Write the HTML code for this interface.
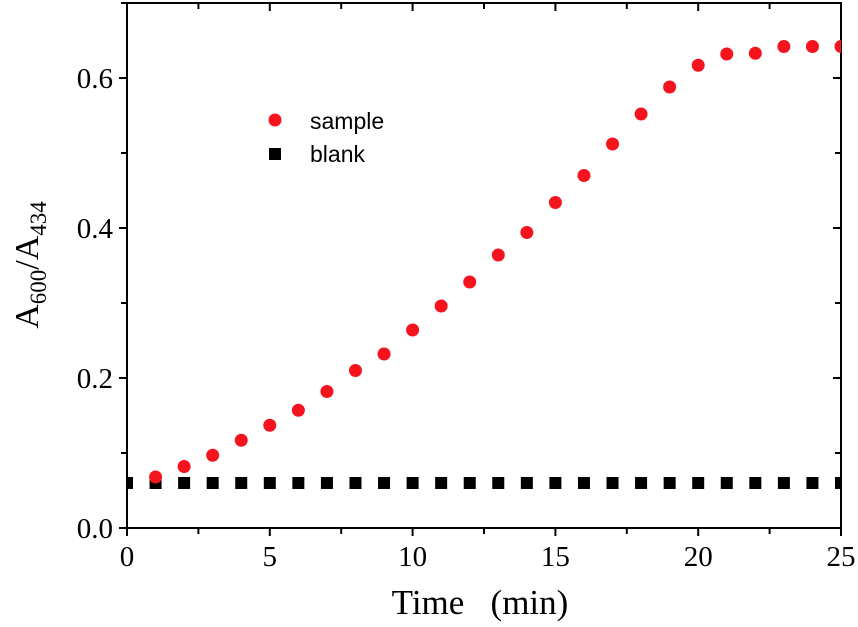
<!DOCTYPE html>
<html><head><meta charset="utf-8"><style>
html,body{margin:0;padding:0;background:#fff;}
svg{display:block;font-family:"Liberation Serif",serif;}
</style></head><body>
<svg id="chart" width="858" height="627" viewBox="0 0 858 627" xmlns="http://www.w3.org/2000/svg">
<defs><clipPath id="plotclip"><rect x="127" y="3" width="714" height="525"/></clipPath></defs>
<g id="axes"></g>
<g id="marks" clip-path="url(#plotclip)"></g>
<g>
<circle cx="275" cy="120" r="6.5" fill="#f5141e"/>
<text x="310" y="129" font-family="Liberation Sans, sans-serif" font-size="23" fill="#000">sample</text>
<rect x="269" y="148" width="12" height="12" fill="#000"/>
<text x="310" y="162" font-family="Liberation Sans, sans-serif" font-size="23" fill="#000">blank</text>
</g>
<text x="480" y="614" text-anchor="middle" font-size="35" xml:space="preserve">Time   (min)</text>
<text transform="translate(38,265) rotate(-90)" text-anchor="middle" font-size="34">A<tspan font-size="23" dy="8">600</tspan><tspan dy="-8">/A</tspan><tspan font-size="23" dy="8">434</tspan></text>
</svg>
<script>
const times=[1,2,3,4,5,6,7,8,9,10,11,12,13,14,15,16,17,18,19,20,21,22,23,24,25];
const sampleValues=[0.068,0.082,0.097,0.117,0.137,0.157,0.182,0.21,0.232,0.264,0.296,0.328,0.364,0.394,0.434,0.47,0.512,0.552,0.588,0.617,0.632,0.633,0.642,0.642,0.642];
const blankTimes=[0,1,2,3,4,5,6,7,8,9,10,11,12,13,14,15,16,17,18,19,20,21,22,23,24,25];
const blankValues=[0.06,0.06,0.06,0.06,0.06,0.06,0.06,0.06,0.06,0.06,0.06,0.06,0.06,0.06,0.06,0.06,0.06,0.06,0.06,0.06,0.06,0.06,0.06,0.06,0.06,0.06];
const xTicks=[0,5,10,15,20,25];
const yTicks=[0.0,0.2,0.4,0.6];
const yTickLabels=["0.0","0.2","0.4","0.6"];

const L=127,R=841,B=528,T=3,XMAX=25,YMAX=0.7;
const sx=v=>L+(R-L)*v/XMAX;
const sy=v=>B-(B-T)*v/YMAX;
const NS="http://www.w3.org/2000/svg";
const axes=document.getElementById('axes'),marks=document.getElementById('marks');
function mk(tag,attrs,parent){const e=document.createElementNS(NS,tag);for(const k in attrs)e.setAttribute(k,attrs[k]);parent.appendChild(e);return e;}

const frame=mk('rect',{x:L,y:T,width:R-L,height:B-T,fill:'none',stroke:'#000','stroke-width':2},axes);



for(let v=0;v<=XMAX+1e-9;v+=2.5){
  const major=Math.abs(v%5)<1e-9;const len=major?8:6;
  const t=mk('line',{x1:sx(v),x2:sx(v),y1:B,y2:B+len,stroke:'#000','stroke-width':2},axes);
  
  
  const t2=mk('line',{x1:sx(v),x2:sx(v),y1:T,y2:T+len,stroke:'#000','stroke-width':2},axes);
  
  
}
xTicks.forEach(v=>{
  const t=mk('text',{x:sx(v),y:B+38,'text-anchor':'middle','font-size':29},axes);
  t.textContent=String(v);
  
  
});
for(let i=0;i<=7;i++){
  const v=i*0.1;const major=i%2===0;const len=major?8:6;
  const t=mk('line',{x1:L-len,x2:L,y1:sy(v),y2:sy(v),stroke:'#000','stroke-width':2},axes);
  
  
  const t2=mk('line',{x1:R-len,x2:R,y1:sy(v),y2:sy(v),stroke:'#000','stroke-width':2},axes);
  
  
}
yTicks.forEach((v,i)=>{
  const t=mk('text',{x:L-14,y:sy(v)+10,'text-anchor':'end','font-size':29},axes);
  t.textContent=yTickLabels[i];
  
  
});

blankTimes.forEach((x,i)=>{
  const r=mk('rect',{x:sx(x)-6,y:sy(blankValues[i])-6,width:12,height:12,fill:'#000'},marks);
  
  
});
times.forEach((x,i)=>{
  const c=mk('circle',{cx:sx(x),cy:sy(sampleValues[i]),r:6.5,fill:'#f5141e'},marks);
  
  
});
</script>
</body></html>
